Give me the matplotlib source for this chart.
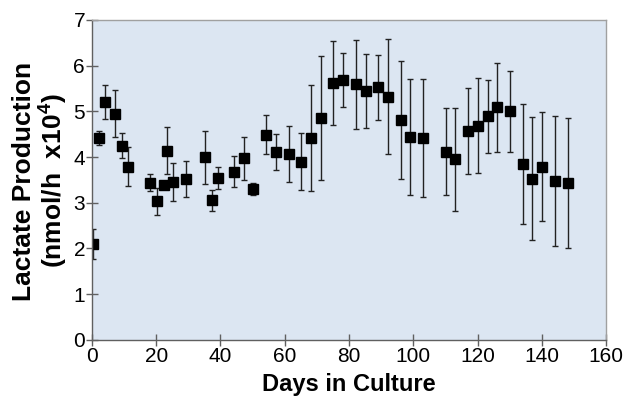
import matplotlib

matplotlib.use("Agg")
import matplotlib.pyplot as plt

days = [0.2, 2.3, 4.1, 7.3, 9.3, 11.3, 18.2, 20.2, 22.3, 23.3,
        25.3, 29.3, 35.2, 37.3, 39.2, 44.2, 47.2, 50.1, 54.3, 57.2,
        61.3, 65.2, 68.2, 71.2, 75.1, 78.1, 82.1, 85.2, 89.1, 92.2,
        96.1, 99.1, 103.1, 110.1, 113.1, 117.1, 120.2, 123.2, 126.1, 130.1,
        134.0, 137.0, 140.0, 144.0, 148.0]
lactate = [2.10, 4.41, 5.21, 4.95, 4.25, 3.79, 3.44, 3.03, 3.38, 4.14,
           3.46, 3.52, 4.00, 3.05, 3.55, 3.68, 3.97, 3.30, 4.49, 4.11,
           4.06, 3.90, 4.42, 4.86, 5.62, 5.68, 5.59, 5.44, 5.53, 5.32,
           4.81, 4.44, 4.41, 4.12, 3.95, 4.57, 4.68, 4.89, 5.09, 5.00,
           3.84, 3.53, 3.79, 3.48, 3.44]
errors = [0.33, 0.15, 0.37, 0.52, 0.28, 0.43, 0.18, 0.30, 0.09, 0.51,
          0.42, 0.39, 0.58, 0.23, 0.24, 0.34, 0.47, 0.14, 0.42, 0.40,
          0.61, 0.62, 1.16, 1.36, 0.91, 0.59, 0.98, 0.81, 0.71, 1.26,
          1.29, 1.27, 1.29, 0.95, 1.12, 0.95, 1.04, 0.80, 0.97, 0.89,
          1.31, 1.34, 1.20, 1.42, 1.42]
x_ticks = [0, 20, 40, 60, 80, 100, 120, 140, 160]
y_ticks = [0, 1, 2, 3, 4, 5, 6, 7]

plt.rcParams["font.family"] = ["Liberation Sans", "DejaVu Sans"]

fig = plt.figure(figsize=(6.3, 3.98), dpi=100)
ax = fig.add_axes([0.146, 0.146, 0.816, 0.804])
ax.set_facecolor("#dce6f2")

ax.errorbar(
    days, lactate, yerr=errors,
    fmt="s", color="black", markersize=7.8,
    ecolor="#222222", elinewidth=1.0, capsize=2.5, capthick=1.0,
)

ax.set_xlim(0, 160)
ax.set_ylim(0, 7)
ax.set_xticks(x_ticks)
ax.set_yticks(y_ticks)
ax.tick_params(axis="both", direction="inout", length=8, width=1,
               color="#606060", labelsize=15, pad=1)
for side in ["left", "bottom"]:
    ax.spines[side].set_color("#606060")
    ax.spines[side].set_linewidth(1.0)
for side in ["top", "right"]:
    ax.spines[side].set_color("#a0a0a0")
    ax.spines[side].set_linewidth(1.0)

# labels placed by hand to sit where the original has them
fig.text(0.554, 0.004, "Days in Culture", fontsize=17, fontweight="bold",
         ha="center", va="bottom")
fig.text(0.065, 0.545, "Lactate Production\n(nmol/h  x10$^\\mathregular{4}$)",
         fontsize=19, fontweight="bold", rotation=90,
         ha="center", va="center", linespacing=1.0, multialignment="center")

fig.savefig("out.png", dpi=100)
